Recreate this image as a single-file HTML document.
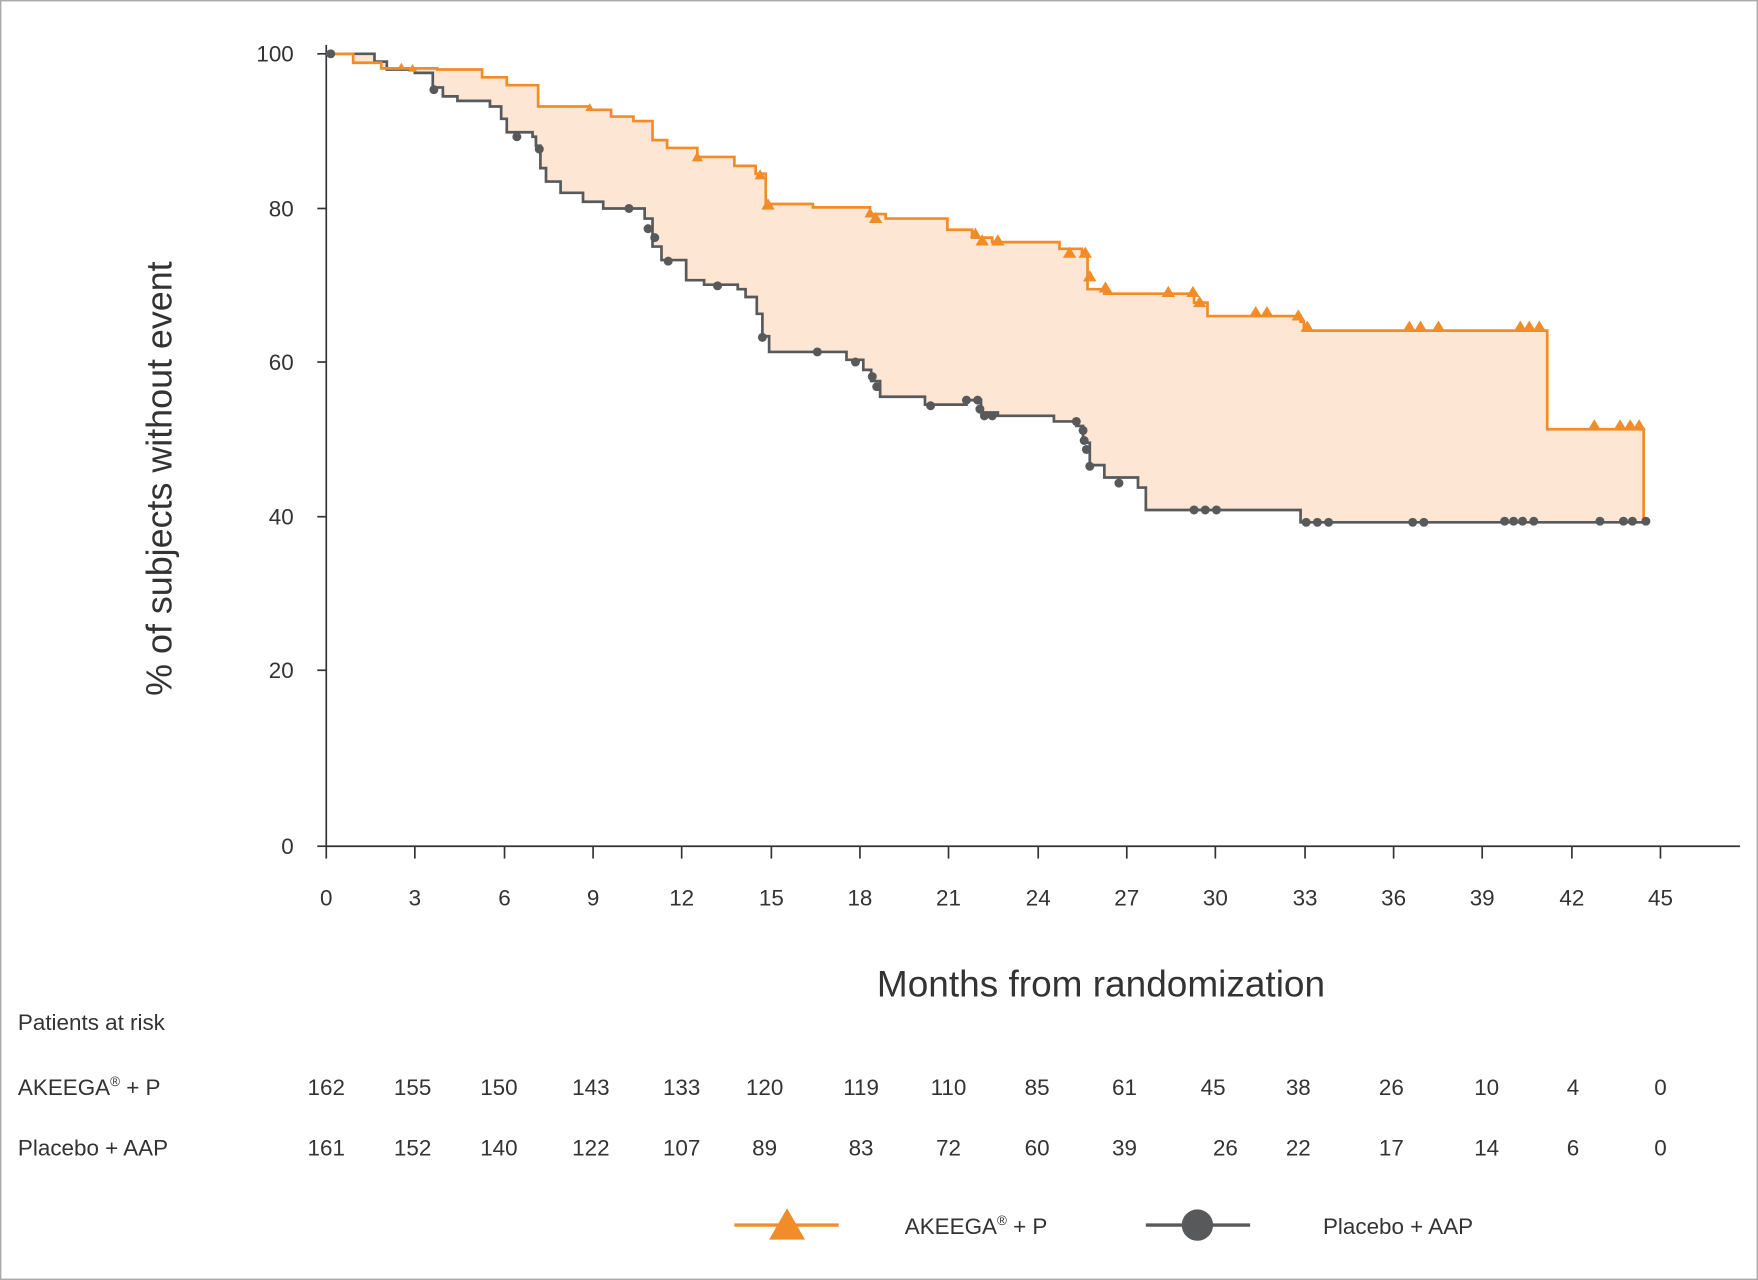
<!DOCTYPE html>
<html><head><meta charset="utf-8"><style>
html,body{margin:0;padding:0;background:#fff}
svg{display:block}
text{font-family:"Liberation Sans",sans-serif;fill:#333}
</style></head><body>
<svg width="1758" height="1280" viewBox="0 0 1568 1142" preserveAspectRatio="none" xmlns="http://www.w3.org/2000/svg">
<rect x="0.5" y="0.5" width="1567" height="1141" fill="#fff" stroke="#aaa" stroke-width="1.5"/>
<polygon fill="#fde6d3" points="291,48 315,48 315,56 340,56 340,61 390,61 390,62 430,62 430,69 452,69 452,76 480,76 480,95 525,95 525,98 545,98 545,104 565,104 565,108 582,108 582,125 595,125 595,132 622,132 622,140 655,140 655,148 674,148 674,155 683,155 683,182 725,182 725,185 776,185 776,191 790,191 790,195 845,195 845,205 867,205 867,212 885,212 885,216 945,216 945,222 965,222 965,228 970,228 970,258 985,258 985,262 1065,262 1065,270 1077,270 1077,282 1160,282 1160,287 1163,287 1163,295 1380,295 1380,383 1466,383 1466,466 1160,466 1160,455 1022,455 1022,435 1015,435 1015,426 985,426 985,415 972,415 972,395 966,395 966,380 960,380 960,376 940,376 940,371 890,371 890,368 875,368 875,357 862,357 862,361 825,361 825,354 785,354 785,340 777,340 777,330 770,330 770,321 755,321 755,314 686,314 686,300 680,300 680,280 675,280 675,265 665,265 665,258 658,258 658,254 628,254 628,250 612,250 612,232 590,232 590,220 582,220 582,195 575,195 575,186 538,186 538,180 520,180 520,172 500,172 500,162 487,162 487,150 482,150 482,130 478,130 478,122 475,122 475,118 452,118 452,106 447,106 447,95 437,95 437,90 408,90 408,86 395,86 395,78 386,78 386,65 370,65 370,62 345,62 345,55 334,55 334,48"/>
<g stroke="#333" stroke-width="1.5" fill="none">
<line x1="291" y1="40" x2="291" y2="755"/>
<line x1="291" y1="755" x2="1552" y2="755"/>
<line x1="283" y1="48" x2="291" y2="48"/><line x1="283" y1="186" x2="291" y2="186"/><line x1="283" y1="323" x2="291" y2="323"/><line x1="283" y1="461" x2="291" y2="461"/><line x1="283" y1="598" x2="291" y2="598"/><line x1="283" y1="755" x2="291" y2="755"/>
<line x1="291" y1="755" x2="291" y2="766"/><line x1="370" y1="755" x2="370" y2="766"/><line x1="450" y1="755" x2="450" y2="766"/><line x1="529" y1="755" x2="529" y2="766"/><line x1="608" y1="755" x2="608" y2="766"/><line x1="688" y1="755" x2="688" y2="766"/><line x1="767" y1="755" x2="767" y2="766"/><line x1="846" y1="755" x2="846" y2="766"/><line x1="926" y1="755" x2="926" y2="766"/><line x1="1005" y1="755" x2="1005" y2="766"/><line x1="1084" y1="755" x2="1084" y2="766"/><line x1="1164" y1="755" x2="1164" y2="766"/><line x1="1243" y1="755" x2="1243" y2="766"/><line x1="1322" y1="755" x2="1322" y2="766"/><line x1="1402" y1="755" x2="1402" y2="766"/><line x1="1481" y1="755" x2="1481" y2="766"/>
</g>
<g font-size="20" text-anchor="end"><text x="262" y="55">100</text><text x="262" y="193">80</text><text x="262" y="330">60</text><text x="262" y="468">40</text><text x="262" y="605">20</text><text x="262" y="762">0</text></g>
<g font-size="20" text-anchor="middle"><text x="291" y="808">0</text><text x="370" y="808">3</text><text x="450" y="808">6</text><text x="529" y="808">9</text><text x="608" y="808">12</text><text x="688" y="808">15</text><text x="767" y="808">18</text><text x="846" y="808">21</text><text x="926" y="808">24</text><text x="1005" y="808">27</text><text x="1084" y="808">30</text><text x="1164" y="808">33</text><text x="1243" y="808">36</text><text x="1322" y="808">39</text><text x="1402" y="808">42</text><text x="1481" y="808">45</text></g>
<text x="153" y="427" font-size="32" text-anchor="middle" transform="rotate(-90 153 427)">% of subjects without event</text>
<text x="982" y="889" font-size="33" text-anchor="middle">Months from randomization</text>
<polyline fill="none" stroke="#58595b" stroke-width="2.4" points="291,48 334,48 334,55 345,55 345,62 370,62 370,65 386,65 386,78 395,78 395,86 408,86 408,90 437,90 437,95 447,95 447,106 452,106 452,118 475,118 475,122 478,122 478,130 482,130 482,150 487,150 487,162 500,162 500,172 520,172 520,180 538,180 538,186 575,186 575,195 582,195 582,220 590,220 590,232 612,232 612,250 628,250 628,254 658,254 658,258 665,258 665,265 675,265 675,280 680,280 680,300 686,300 686,314 755,314 755,321 770,321 770,330 777,330 777,340 785,340 785,354 825,354 825,361 862,361 862,357 875,357 875,368 890,368 890,371 940,371 940,376 960,376 960,380 966,380 966,395 972,395 972,415 985,415 985,426 1015,426 1015,435 1022,435 1022,455 1160,455 1160,466 1466,466"/>
<polyline fill="none" stroke="#f28c28" stroke-width="2.4" points="291,48 315,48 315,56 340,56 340,61 390,61 390,62 430,62 430,69 452,69 452,76 480,76 480,95 525,95 525,98 545,98 545,104 565,104 565,108 582,108 582,125 595,125 595,132 622,132 622,140 655,140 655,148 674,148 674,155 683,155 683,182 725,182 725,185 776,185 776,191 790,191 790,195 845,195 845,205 867,205 867,212 885,212 885,216 945,216 945,222 965,222 965,228 970,228 970,258 985,258 985,262 1065,262 1065,270 1077,270 1077,282 1160,282 1160,287 1163,287 1163,295 1380,295 1380,383 1466,383 1466,466"/>
<g fill="#58595b">
<circle cx="295" cy="48" r="4"/><circle cx="387" cy="80" r="4"/><circle cx="461" cy="122" r="4"/><circle cx="481" cy="133" r="4"/><circle cx="561" cy="186" r="4"/><circle cx="578" cy="204" r="4"/><circle cx="584" cy="212" r="4"/><circle cx="596" cy="233" r="4"/><circle cx="640" cy="255" r="4"/><circle cx="680" cy="301" r="4"/><circle cx="729" cy="314" r="4"/><circle cx="763" cy="323" r="4"/><circle cx="778" cy="336" r="4"/><circle cx="782" cy="345" r="4"/><circle cx="830" cy="362" r="4"/><circle cx="862" cy="357" r="4"/><circle cx="872" cy="357" r="4"/><circle cx="874" cy="365" r="4"/><circle cx="878" cy="371" r="4"/><circle cx="885" cy="371" r="4"/><circle cx="960" cy="376" r="4"/><circle cx="966" cy="384" r="4"/><circle cx="967" cy="393" r="4"/><circle cx="969" cy="401" r="4"/><circle cx="972" cy="416" r="4"/><circle cx="998" cy="431" r="4"/><circle cx="1065" cy="455" r="4"/><circle cx="1075" cy="455" r="4"/><circle cx="1085" cy="455" r="4"/><circle cx="1165" cy="466" r="4"/><circle cx="1175" cy="466" r="4"/><circle cx="1185" cy="466" r="4"/><circle cx="1260" cy="466" r="4"/><circle cx="1270" cy="466" r="4"/><circle cx="1342" cy="465" r="4"/><circle cx="1350" cy="465" r="4"/><circle cx="1358" cy="465" r="4"/><circle cx="1368" cy="465" r="4"/><circle cx="1427" cy="465" r="4"/><circle cx="1448" cy="465" r="4"/><circle cx="1456" cy="465" r="4"/><circle cx="1468" cy="465" r="4"/>
</g>
<g fill="#f28c28">
<path d="M358,56 l-3,5 h6z M368,57 l-4,7 h8z M526,92 l-4,7 h8z M622,135 l-5,9 h10z M678,151 l-5,9 h10z M685,177 l-6,10 h12z M776,185 l-5,9 h10z M781,189 l-6,10 h12z M870,203 l-5,9 h10z M876,209 l-6,10 h12z M890,209 l-6,10 h12z M954,220 l-6,10 h12z M968,220 l-6,10 h12z M972,241 l-6,10 h12z M986,251 l-6,10 h12z M1042,255 l-6,10 h12z M1064,255 l-6,10 h12z M1070,264 l-6,10 h12z M1120,273 l-6,10 h12z M1130,273 l-6,10 h12z M1158,276 l-6,10 h12z M1166,286 l-6,10 h12z M1257,286 l-6,10 h12z M1267,286 l-6,10 h12z M1283,286 l-6,10 h12z M1356,286 l-6,10 h12z M1364,286 l-6,10 h12z M1373,286 l-6,10 h12z M1422,374 l-6,10 h12z M1445,374 l-6,10 h12z M1454,374 l-6,10 h12z M1462,374 l-6,10 h12z"/>
</g>
<g font-size="20">
<text x="16" y="919">Patients at risk</text>
<text x="16" y="977">AKEEGA<tspan font-size="12" dy="-8">®</tspan><tspan dy="8"> + P</tspan></text>
<text x="16" y="1031">Placebo + AAP</text>
</g>
<g font-size="20" text-anchor="middle">
<text x="291" y="977">162</text><text x="368" y="977">155</text><text x="445" y="977">150</text><text x="527" y="977">143</text><text x="608" y="977">133</text><text x="682" y="977">120</text><text x="768" y="977">119</text><text x="846" y="977">110</text><text x="925" y="977">85</text><text x="1003" y="977">61</text><text x="1082" y="977">45</text><text x="1158" y="977">38</text><text x="1241" y="977">26</text><text x="1326" y="977">10</text><text x="1403" y="977">4</text><text x="1481" y="977">0</text>
<text x="291" y="1031">161</text><text x="368" y="1031">152</text><text x="445" y="1031">140</text><text x="527" y="1031">122</text><text x="608" y="1031">107</text><text x="682" y="1031">89</text><text x="768" y="1031">83</text><text x="846" y="1031">72</text><text x="925" y="1031">60</text><text x="1003" y="1031">39</text><text x="1093" y="1031">26</text><text x="1158" y="1031">22</text><text x="1241" y="1031">17</text><text x="1326" y="1031">14</text><text x="1403" y="1031">6</text><text x="1481" y="1031">0</text>
</g>
<line x1="655" y1="1093" x2="748" y2="1093" stroke="#f28c28" stroke-width="3"/>
<path d="M702,1078 l-16,28 h32z" fill="#f28c28"/>
<text x="807" y="1101" font-size="20">AKEEGA<tspan font-size="12" dy="-8">®</tspan><tspan dy="8"> + P</tspan></text>
<line x1="1022" y1="1093" x2="1115" y2="1093" stroke="#58595b" stroke-width="3"/>
<circle cx="1068" cy="1093" r="14" fill="#58595b"/>
<text x="1180" y="1101" font-size="20">Placebo + AAP</text>
</svg>
</body></html>
